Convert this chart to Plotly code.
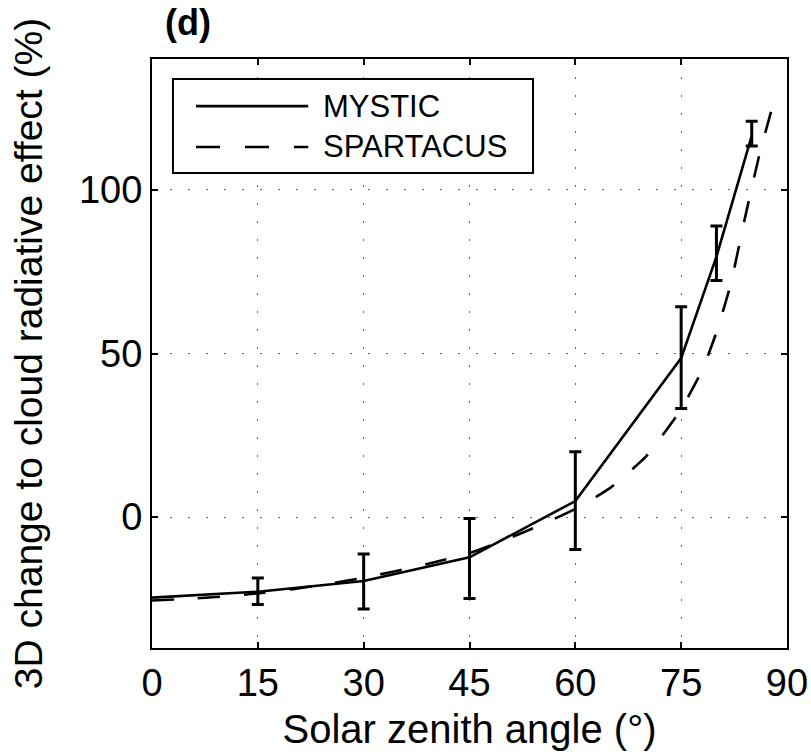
import plotly.graph_objects as go

# MYSTIC (solid) with error bars
mystic_x = [0, 15, 30, 45, 60, 75, 80, 85]
mystic_y = [-24.6, -22.8, -19.5, -12.3, 4.9, 48.6, 79.6, 116.5]

err_x = [15, 30, 45, 60, 75, 80, 85]
err_center = [-22.8, -19.5, -12.3, 4.9, 48.6, 79.6, 116.5]
err_upper = [-18.6, -11.3, -0.4, 20.0, 64.3, 89.0, 121.0]
err_lower = [-26.7, -28.1, -24.9, -9.9, 33.2, 72.3, 113.4]

# SPARTACUS (dashed)
spart_x = [0, 5, 10, 15, 20, 25, 30, 35, 40, 45, 50, 55, 60, 65, 70, 72, 75, 78, 80, 82, 84, 86, 88]
spart_y = [-25.5, -25.0, -24.3, -23.3, -22.0, -20.4, -18.5, -16.3, -13.8, -11.0, -7.0, -2.5,
           2.5, 9.0, 18.5, 24.0, 33.0, 45.0, 56.5, 71.0, 91.0, 110.0, 126.0]

x_ticks = [0, 15, 30, 45, 60, 75, 90]
y_ticks = [0, 50, 100]

FONT = "Liberation Sans, Arial, Helvetica, sans-serif"

fig = go.Figure()

fig.add_trace(go.Scatter(
    x=spart_x, y=spart_y, mode="lines", name="SPARTACUS",
    line=dict(color="black", width=2.6, dash="22px,24px", shape="spline", smoothing=0.5),
    showlegend=False,
))

fig.add_trace(go.Scatter(
    x=mystic_x, y=mystic_y, mode="lines", name="MYSTIC",
    line=dict(color="black", width=2.6),
    showlegend=False,
))

fig.add_trace(go.Scatter(
    x=err_x, y=err_center, mode="markers",
    marker=dict(size=1, color="rgba(0,0,0,0)"),
    error_y=dict(
        type="data", symmetric=False,
        array=[u - c for u, c in zip(err_upper, err_center)],
        arrayminus=[c - l for l, c in zip(err_lower, err_center)],
        color="black", thickness=3, width=6,
    ),
    showlegend=False, hoverinfo="skip",
))

# Manual legend (box, sample lines, labels)
L_X0, L_X1, L_Y0, L_Y1 = 0.033, 0.600, 0.8065, 0.966
fig.add_shape(type="rect", xref="paper", yref="paper", x0=L_X0, x1=L_X1, y0=L_Y0, y1=L_Y1,
              line=dict(color="black", width=2), fillcolor="white", layer="above")
fig.add_shape(type="line", xref="paper", yref="paper", x0=0.0693, x1=0.246, y0=0.920, y1=0.920,
              line=dict(color="black", width=2.6), layer="above")
fig.add_shape(type="line", xref="paper", yref="paper", x0=0.0693, x1=0.246, y0=0.8506, y1=0.8506,
              line=dict(color="black", width=2.6, dash="24px,25px"), layer="above")
fig.add_annotation(xref="paper", yref="paper", x=0.266, y=0.920, text="MYSTIC",
                   showarrow=False, xanchor="left", yanchor="middle",
                   font=dict(family=FONT, size=31, color="black"))
fig.add_annotation(xref="paper", yref="paper", x=0.266, y=0.8506, text="SPARTACUS",
                   showarrow=False, xanchor="left", yanchor="middle",
                   font=dict(family=FONT, size=31, color="black"))

# Panel label
fig.add_annotation(xref="paper", yref="paper", x=0.018, y=1.062, text="<b>(d)</b>",
                   showarrow=False, xanchor="left", yanchor="middle",
                   font=dict(family=FONT, size=36, color="black"))

axis_common = dict(
    showline=True, linecolor="black", linewidth=2, mirror="ticks",
    ticks="inside", ticklen=6, tickwidth=1.5, tickcolor="black",
    showgrid=True, gridcolor="#666666", gridwidth=1.3, griddash="2px,16px",
    zeroline=False, automargin=False,
    tickfont=dict(family=FONT, size=38, color="black"),
)

fig.update_xaxes(
    range=[0, 90], tickvals=x_ticks, ticktext=[str(v) for v in x_ticks],
    title=dict(text="Solar zenith angle (°)", font=dict(family=FONT, size=40, color="black"), standoff=12),
    **axis_common,
)
fig.update_yaxes(
    range=[-40, 140], tickvals=y_ticks, ticktext=[str(v) for v in y_ticks],
    title=dict(text="3D change to cloud radiative effect (%)", font=dict(family=FONT, size=39, color="black"), standoff=24),
    **axis_common,
)

fig.update_layout(
    width=811, height=755,
    margin=dict(l=152, r=24, t=59, b=107),
    paper_bgcolor="white", plot_bgcolor="white",
    showlegend=False,
    font=dict(family=FONT, color="black"),
)

fig.write_html("out.html")
